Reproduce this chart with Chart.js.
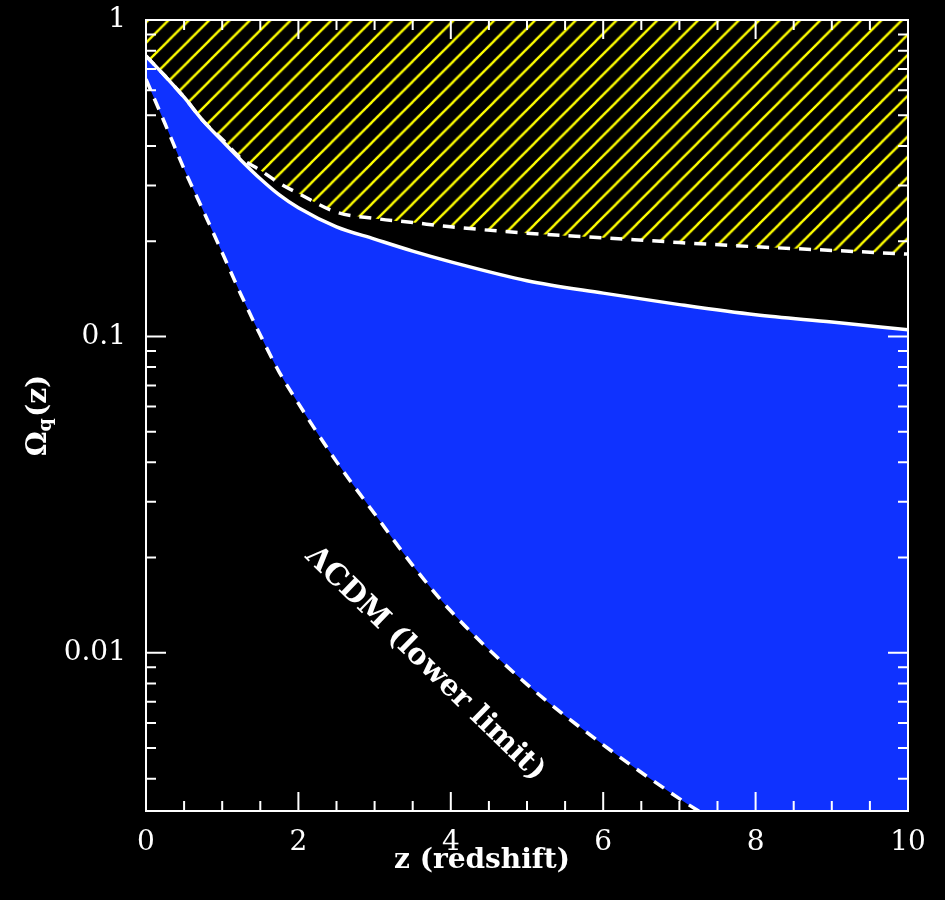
<!DOCTYPE html>
<html>
<head>
<meta charset="utf-8">
<script src="https://cdn.jsdelivr.net/npm/chart.js@4.4.0/dist/chart.umd.min.js"></script>
<style>
  html, body { margin: 0; padding: 0; background: #000; }
  canvas { display: block; }
</style>
</head>
<body>
<canvas id="c" width="945" height="900"></canvas>
<script>
// Redshift grid shared by the quintessence curves
const redshift = [0, 0.25, 0.5, 0.75, 1, 1.25, 1.5, 1.75, 2, 2.5, 3, 3.5, 4, 5, 6, 7, 8, 9, 10];
// Upper edge of the allowed quintessence band (solid line)
const omegaQuint = [0.77, 0.665, 0.57, 0.48, 0.415, 0.36, 0.315, 0.28, 0.255, 0.222, 0.203, 0.186, 0.172, 0.150, 0.137, 0.126, 0.117, 0.111, 0.105];
// Boundary of the excluded (hatched) region (dashed line)
const omegaExcluded = [0.77, 0.665, 0.57, 0.48, 0.42, 0.365, 0.335, 0.305, 0.283, 0.247, 0.236, 0.229, 0.222, 0.212, 0.205, 0.198, 0.192, 0.187, 0.182];
// Cosmological-constant lower limit
const lcdmRedshift = [0, 0.25, 0.5, 0.75, 1, 1.25, 1.5, 1.75, 2, 2.5, 3, 3.5, 4, 5, 6, 7, 7.5];
const omegaLcdm = [0.65, 0.47, 0.338, 0.25, 0.184, 0.135, 0.101, 0.077, 0.0614, 0.0402, 0.0275, 0.0189, 0.01355, 0.00795, 0.00512, 0.00346, 0.0029];

const xTicks = [0, 2, 4, 6, 8, 10];
const yTicks = [0.01, 0.1, 1];
const yTickLabels = ['0.01', '0.1', '1'];
const yMin = Math.pow(10, -2.5);
const yMax = 1;

const SERIF = '"DejaVu Serif", "Liberation Serif", serif';

const toPoints = (xs, ys) => xs.map((x, i) => ({ x, y: ys[i] }));

const canvas = document.getElementById('c');
const ctx = canvas.getContext('2d');

// Yellow 45-degree hatching for the excluded region
function makeHatch() {
  const s = 20;
  const tile = document.createElement('canvas');
  tile.width = s; tile.height = s;
  const g = tile.getContext('2d');
  g.strokeStyle = '#ffff00';
  g.lineWidth = 2.3;
  g.beginPath();
  for (const k of [0, 1, 2]) {
    const c = k * s;
    g.moveTo(c + 3, -3);
    g.lineTo(-3, c + 3);
  }
  g.stroke();
  const p = ctx.createPattern(tile, 'repeat');
  const k = 20.37 / s;
  p.setTransform(new DOMMatrix([k, 0, 0, k, 5.3, 0]));
  return p;
}

// Frame with inward ticks on all four sides
const frameTicks = {
  id: 'frameTicks',
  afterDatasetsDraw(chart) {
    const { ctx, chartArea: a, scales: { x, y } } = chart;
    ctx.save();
    ctx.strokeStyle = '#fff';
    ctx.lineWidth = 2;
    ctx.beginPath();
    for (let i = 0; i <= 20; i++) {
      const v = i * 0.5;
      const px = x.getPixelForValue(v);
      const len = xTicks.includes(v) ? 19 : 10;
      ctx.moveTo(px, a.bottom); ctx.lineTo(px, a.bottom - len);
      ctx.moveTo(px, a.top); ctx.lineTo(px, a.top + len);
    }
    for (let e = -3; e <= 0; e++) {
      for (let m = 1; m <= 9; m++) {
        const v = m * Math.pow(10, e);
        if (v < yMin * 0.999 || v > yMax * 1.001) continue;
        const py = y.getPixelForValue(v);
        const len = m === 1 ? 20 : 10;
        ctx.moveTo(a.left, py); ctx.lineTo(a.left + len, py);
        ctx.moveTo(a.right, py); ctx.lineTo(a.right - len, py);
      }
    }
    ctx.stroke();
    ctx.strokeRect(a.left, a.top, a.right - a.left, a.bottom - a.top);
    ctx.restore();
  },
  afterDraw(chart) {
    const { ctx } = chart;
    ctx.save();
    ctx.fillStyle = '#fff';

    // x-axis title
    ctx.font = 'bold 28px ' + SERIF;
    ctx.textAlign = 'center';
    ctx.textBaseline = 'alphabetic';
    ctx.fillText('z (redshift)', 482, 868);

    // y-axis title: Omega with subscript q
    ctx.save();
    ctx.translate(37, 416);
    ctx.rotate(-Math.PI / 2);
    ctx.textAlign = 'left';
    const big = 'bold 28px ' + SERIF, small = 'bold 19px ' + SERIF;
    ctx.font = big; const wO = ctx.measureText('\u03A9').width; const wP = ctx.measureText('(z)').width;
    ctx.font = small; const wq = ctx.measureText('q').width;
    let x0 = -(wO + wq + wP) / 2;
    ctx.font = big; ctx.fillText('\u03A9', x0, 9);
    ctx.font = small; ctx.fillText('q', x0 + wO, 14);
    ctx.font = big; ctx.fillText('(z)', x0 + wO + wq + 1, 9);
    ctx.restore();

    // label along the lower-limit curve
    ctx.save();
    ctx.translate(425, 664);
    ctx.rotate(44.2 * Math.PI / 180);
    const txt = '\u039BCDM (lower limit)';
    ctx.font = 'bold 28px ' + SERIF;
    const w = ctx.measureText(txt).width;
    const size = 28 * 322 / w;
    ctx.font = 'bold ' + size.toFixed(1) + 'px ' + SERIF;
    ctx.textAlign = 'center';
    ctx.textBaseline = 'middle';
    ctx.fillText(txt, 0, 0);
    ctx.restore();

    ctx.restore();
  }
};

const lineCommon = {
  borderColor: '#ffffff',
  borderWidth: 3.5,
  pointRadius: 0,
  cubicInterpolationMode: 'monotone'
};

new Chart(ctx, {
  type: 'line',
  data: {
    datasets: [
      Object.assign({}, lineCommon, {
        label: '\u039BCDM',
        data: toPoints(lcdmRedshift, omegaLcdm),
        borderDash: [12, 9],
        fill: 'start',
        backgroundColor: '#000000'
      }),
      Object.assign({}, lineCommon, {
        label: 'excluded',
        data: toPoints(redshift, omegaExcluded),
        borderDash: [12, 9],
        fill: 'end',
        backgroundColor: makeHatch()
      }),
      Object.assign({}, lineCommon, {
        label: 'quintessence',
        data: toPoints(redshift, omegaQuint),
        fill: 'start',
        backgroundColor: '#0f32ff'
      })
    ]
  },
  options: {
    responsive: false,
    animation: false,
    devicePixelRatio: 1,
    layout: { padding: { top: 20, right: 37, left: 0, bottom: 0 } },
    plugins: {
      legend: { display: false },
      tooltip: { enabled: false },
      filler: { drawTime: 'beforeDatasetsDraw' }
    },
    scales: {
      x: {
        type: 'linear',
        min: 0, max: 10,
        afterBuildTicks: s => { s.ticks = xTicks.map(v => ({ value: v })); },
        afterFit: s => { s.height = 89; s.paddingLeft = 0; s.paddingRight = 0; },
        grid: { display: false, drawTicks: false, tickLength: 0 },
        border: { display: false },
        ticks: {
          color: '#fff',
          font: { family: SERIF, size: 28 },
          padding: 15,
          maxRotation: 0,
          callback: v => String(v)
        }
      },
      y: {
        type: 'logarithmic',
        min: yMin, max: yMax,
        afterBuildTicks: s => { s.ticks = yTicks.map(v => ({ value: v })); },
        afterFit: s => { s.width = 146; s.paddingTop = 0; s.paddingBottom = 0; },
        grid: { display: false, drawTicks: false, tickLength: 0 },
        border: { display: false },
        ticks: {
          color: '#fff',
          font: { family: SERIF, size: 28 },
          padding: 20,
          callback: v => yTickLabels[yTicks.indexOf(v)] ?? ''
        }
      }
    }
  },
  plugins: [frameTicks]
});
</script>
</body>
</html>
